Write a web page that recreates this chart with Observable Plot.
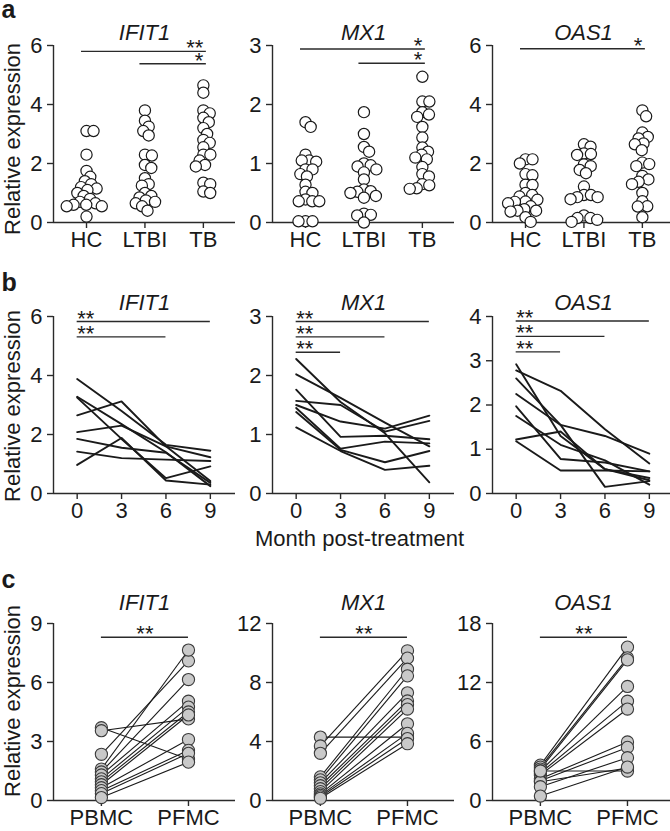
<!DOCTYPE html>
<html>
<head>
<meta charset="utf-8">
<script src="https://cdn.jsdelivr.net/npm/d3@7"></script>
<script src="https://cdn.jsdelivr.net/npm/@observablehq/plot@0.6"></script>
<style>
  html, body { margin: 0; padding: 0; background: #fff; overflow: hidden; }
  #root { position: relative; width: 670px; height: 831px; overflow: hidden; }
  #root svg { position: absolute; }
</style>
</head>
<body>
<div id="root"></div>
<script>
// ---------------- data ----------------
const genes = ["IFIT1", "MX1", "OAS1"];
const groupsA = ["HC", "LTBI", "TB"];
const groupsC = ["PBMC", "PFMC"];
const months = [0, 3, 6, 9];

// y axis ticks per row / gene
const yTicksA = [[0, 2, 4, 6], [0, 1, 2, 3], [0, 2, 4, 6]];
const yTicksB = [[0, 2, 4, 6], [0, 1, 2, 3], [0, 1, 2, 3, 4]];
const yTicksC = [[0, 3, 6, 9], [0, 4, 8, 12], [0, 6, 12, 18]];

// panel a: relative expression per group
const aIFIT1_HC   = [3.1, 3.1, 2.3, 1.75, 1.55, 1.4, 1.3, 1.2, 1.15, 1.1, 1.0, 0.9, 0.8, 0.7, 0.65, 0.6, 0.6, 0.55, 0.55, 0.2];
const aIFIT1_LTBI = [3.8, 3.45, 3.25, 3.1, 2.95, 2.3, 2.27, 1.95, 1.85, 1.5, 1.3, 1.25, 1.0, 0.9, 0.85, 0.75, 0.7, 0.65, 0.55, 0.4];
const aIFIT1_TB   = [4.65, 4.4, 3.8, 3.7, 3.55, 3.4, 3.2, 3.0, 2.8, 2.7, 2.55, 2.3, 2.3, 2.1, 1.95, 1.9, 1.35, 1.3, 1.05, 1.0];
const aMX1_HC     = [1.7, 1.62, 1.15, 1.05, 1.05, 1.03, 0.9, 0.9, 0.82, 0.78, 0.64, 0.52, 0.5, 0.39, 0.36, 0.36, 0.36, 0.02, 0.02, 0.02];
const aMX1_LTBI   = [1.87, 1.5, 1.28, 1.2, 1.0, 0.97, 0.95, 0.9, 0.85, 0.73, 0.56, 0.53, 0.52, 0.5, 0.45, 0.42, 0.15, 0.13, 0.12, 0.0];
const aMX1_TB     = [2.47, 2.05, 2.05, 1.87, 1.83, 1.79, 1.62, 1.44, 1.27, 1.2, 1.15, 1.1, 1.07, 0.94, 0.82, 0.78, 0.65, 0.63, 0.58, 0.57];
const aOAS1_HC    = [2.14, 2.14, 2.0, 1.64, 1.6, 1.28, 1.27, 1.0, 0.93, 0.88, 0.77, 0.71, 0.7, 0.65, 0.55, 0.45, 0.4, 0.4, 0.37, 0.18, 0.02];
const aOAS1_LTBI  = [2.65, 2.57, 2.34, 2.32, 2.29, 1.97, 1.91, 1.78, 1.67, 1.22, 0.93, 0.93, 0.86, 0.86, 0.79, 0.24, 0.15, 0.15, 0.09, 0.02];
const aOAS1_TB    = [3.8, 3.6, 3.05, 2.9, 2.85, 2.68, 2.65, 2.45, 2.03, 1.98, 1.91, 1.58, 1.46, 1.38, 1.3, 1.0, 0.72, 0.55, 0.54, 0.18];

// panel a significance bars
const sigA_IFIT1 = [{from: "HC", to: "TB", y: 5.80, label: "**"}, {from: "LTBI", to: "TB", y: 5.38, label: "*"}];
const sigA_MX1   = [{from: "HC", to: "TB", y: 2.94, label: "*"}, {from: "LTBI", to: "TB", y: 2.70, label: "*"}];
const sigA_OAS1  = [{from: "HC", to: "TB", y: 5.89, label: "*"}];

// panel b: each patient's values at months 0, 3, 6, 9
const bIFIT1 = [
  [3.88, 2.80, 1.65, 1.45],
  [3.28, 2.35, 1.40, 0.25],
  [3.25, 1.85, 0.52, 0.92],
  [2.65, 3.12, 1.60, 1.23],
  [2.08, 2.30, 1.60, 0.42],
  [1.85, 1.55, 1.38, 0.36],
  [1.42, 1.20, 1.15, 1.10],
  [0.97, 1.88, 0.44, 0.30]
];
const bMX1 = [
  [2.28, 1.55, 1.02, 0.19],
  [2.02, 1.62, 1.20, 0.80],
  [1.76, 0.96, 0.98, 0.92],
  [1.57, 1.50, 1.05, 1.23],
  [1.50, 1.22, 1.10, 1.32],
  [1.45, 0.76, 0.88, 0.85],
  [1.38, 0.74, 0.53, 0.72],
  [1.12, 0.72, 0.40, 0.47]
];
const bOAS1 = [
  [2.92, 1.30, 0.55, 0.30],
  [2.78, 2.32, 1.45, 0.68],
  [2.60, 1.55, 0.15, 0.28],
  [2.25, 1.55, 1.30, 0.90],
  [1.97, 0.78, 0.70, 0.50],
  [1.75, 1.10, 0.75, 0.20],
  [1.22, 1.40, 0.55, 0.35],
  [1.18, 0.52, 0.52, 0.50]
];
const sigB_IFIT1 = [{to: 9, y: 5.83, label: "**"}, {to: 6, y: 5.31, label: "**"}];
const sigB_MX1   = [{to: 9, y: 2.915, label: "**"}, {to: 6, y: 2.655, label: "**"}, {to: 3, y: 2.395, label: "**"}];
const sigB_OAS1  = [{to: 9, y: 3.90, label: "**"}, {to: 6, y: 3.55, label: "**"}, {to: 3, y: 3.20, label: "**"}];

// panel c: paired PBMC -> PFMC
const cIFIT1_PBMC = [3.7, 3.55, 2.35, 1.6, 1.45, 1.3, 1.1, 0.95, 0.8, 0.65, 0.5, 0.35, 0.15];
const cIFIT1_PFMC = [2.1, 4.15, 7.1, 7.65, 6.15, 5.05, 4.75, 4.5, 4.35, 3.1, 2.55, 2.4, 1.95];
const cMX1_PBMC   = [4.3, 3.7, 3.2, 1.6, 1.4, 1.2, 1.0, 0.8, 0.6, 0.45, 0.35, 0.25, 0.15];
const cMX1_PFMC   = [4.3, 10.15, 9.65, 8.9, 8.45, 7.3, 6.75, 6.5, 6.2, 5.2, 4.55, 4.2, 3.85];
const cOAS1_PBMC  = [3.6, 3.4, 3.2, 3.0, 2.8, 2.6, 2.2, 2.0, 1.9, 3.0, 1.4, 0.45];
const cOAS1_PFMC  = [15.6, 14.5, 14.3, 11.6, 10.1, 9.3, 5.95, 5.4, 3.3, 3.0, 4.35, 3.4];
const sigC = [{y: 8.30, label: "**"}, {y: 11.07, label: "**"}, {y: 16.6, label: "**"}];

// ---------------- layout ----------------
const FONT = '"Liberation Sans", Arial, Helvetica, sans-serif';
const INK = "#1a1a1a";
const AX = "#2a2a2a";
const ML = 53, MT = 45, W = 182, H = 177, MB = 45;
const colLeft = [0, 219, 439];
const rowTop = [0, 271, 578];
const root = document.getElementById("root");

function place(svg, left, top) {
  svg.style.left = left + "px";
  svg.style.top = top + "px";
  root.appendChild(svg);
}

function base(x, y, marks) {
  return Plot.plot({
    width: ML + W, height: MT + H + MB,
    marginLeft: ML, marginRight: 0, marginTop: MT, marginBottom: MB,
    x, y, marks,
    style: {background: "transparent", overflow: "visible", fontFamily: FONT, fontSize: "22px", color: INK}
  });
}

function frameMarks(xDomain, yMax, xTicks, xFmt, yTicks) {
  return [
    Plot.ruleY([0], {stroke: AX, strokeWidth: 1.4}),
    Plot.ruleX([xDomain[0]], {y1: 0, y2: yMax, stroke: AX, strokeWidth: 1.4}),
    Plot.axisX({ticks: xTicks, tickFormat: xFmt, tickSize: 6, tickPadding: 3, strokeWidth: 1.4, stroke: AX, label: null}),
    Plot.axisY({ticks: yTicks, tickFormat: d => String(d), tickSize: 6, tickPadding: 5, strokeWidth: 1.4, stroke: AX, label: null})
  ];
}

function decor(gene, titleDy, yLabel, yLabelDy, letter, letterDy) {
  const m = [Plot.text([gene], {text: d => d, frameAnchor: "top", textAnchor: "middle", lineAnchor: "bottom", dy: titleDy, fontStyle: "italic"})];
  if (yLabel) m.push(Plot.text(["Relative expression"], {text: d => d, frameAnchor: "left", textAnchor: "middle", lineAnchor: "middle", rotate: -90, dx: -41, dy: yLabelDy}));
  if (letter) m.push(Plot.text([letter], {text: d => d, frameAnchor: "top-left", textAnchor: "start", lineAnchor: "bottom", dx: -52, dy: letterDy, fontWeight: "bold", fontSize: 25}));
  return m;
}

// dodge-style beeswarm: pixel offsets so circles overlap only partially
function swarm(vals, pxY, minD) {
  const order = vals.map((v, i) => i).sort((a, b) => vals[b] - vals[a]);
  const placed = [];
  const off = new Array(vals.length);
  for (const i of order) {
    const y = vals[i] * pxY;
    const cands = [0];
    for (const p of placed) {
      const dy = Math.abs(p.y - y);
      if (dy < minD) {
        const dx = Math.sqrt(minD * minD - dy * dy);
        cands.push(p.x + dx, p.x - dx);
      }
    }
    cands.sort((a, b) => Math.abs(a) - Math.abs(b));
    let best = 0;
    for (const c of cands) {
      if (placed.every(p => (p.x - c) ** 2 + (p.y - y) ** 2 >= minD * minD - 1e-6)) { best = c; break; }
    }
    off[i] = best;
    placed.push({x: best, y});
  }
  return off;
}

// ---------------- panel a ----------------
function panelA(gi, groups, sig) {
  const yMax = yTicksA[gi][yTicksA[gi].length - 1];
  const xDomain = [-0.565, 2.55];
  const pxX = W / (xDomain[1] - xDomain[0]);
  const pxY = H / yMax;
  const pts = [];
  groups.forEach((vals, k) => {
    const off = swarm(vals, pxY, 7);
    vals.forEach((v, i) => pts.push({x: k + off[i] / pxX, y: v}));
  });
  return base(
    {domain: xDomain}, {domain: [0, yMax]},
    [
      ...frameMarks(xDomain, yMax, [0, 1, 2], i => groupsA[i], yTicksA[gi]),
      Plot.dot(pts, {x: "x", y: "y", r: 5.6, stroke: INK, strokeWidth: 1.2, fill: "white"}),
      Plot.ruleY(sig, {x1: d => groupsA.indexOf(d.from), x2: d => groupsA.indexOf(d.to), y: "y", stroke: AX, strokeWidth: 1.4, insetLeft: -5, insetRight: -3}),
      Plot.text(sig, {x: d => groupsA.indexOf(d.to), y: "y", text: "label", textAnchor: "end", lineAnchor: "bottom", dy: 4}),
      ...decor(genes[gi], -6, gi === 0, 5, gi === 0 ? "a" : null, -28)
    ]
  );
}

// ---------------- panel b ----------------
function panelB(gi, series, sig) {
  const yMax = yTicksB[gi][yTicksB[gi].length - 1];
  const xDomain = [-1.6, 10.7];
  const rows = series.flatMap((vals, p) => vals.map((v, j) => ({p, m: months[j], v})));
  const marks = [
    ...frameMarks(xDomain, yMax, months, d => String(d), yTicksB[gi]),
    Plot.line(rows, {x: "m", y: "v", z: "p", stroke: INK, strokeWidth: 1.9}),
    Plot.ruleY(sig, {x1: () => months[0], x2: "to", y: "y", stroke: AX, strokeWidth: 1.4}),
    Plot.text(sig, {x: () => months[0], y: "y", text: "label", textAnchor: "start", lineAnchor: "bottom", dy: 4}),
    ...decor(genes[gi], -7, gi === 0, 1, gi === 0 ? "b" : null, -26)
  ];
  if (gi === 1) marks.push(Plot.text(["Month post-treatment"], {text: d => d, frameAnchor: "bottom", textAnchor: "middle", lineAnchor: "bottom", dy: 52, dx: -4}));
  return base({domain: xDomain}, {domain: [0, yMax]}, marks);
}

// ---------------- panel c ----------------
function panelC(gi, pb, pf, sig) {
  const yMax = yTicksC[gi][yTicksC[gi].length - 1];
  const xDomain = [-0.55, 1.54];
  const pairs = pb.map((v, i) => ({a: v, b: pf[i]}));
  return base(
    {domain: xDomain}, {domain: [0, yMax]},
    [
      ...frameMarks(xDomain, yMax, [0, 1], i => groupsC[i], yTicksC[gi]),
      Plot.link(pairs, {x1: () => 0, y1: "a", x2: () => 1, y2: "b", stroke: INK, strokeWidth: 1.1}),
      Plot.dot(pb, {x: () => 0, y: d => d, r: 6.1, fill: "#c9c9c9", stroke: "#3a3a3a", strokeWidth: 1.1}),
      Plot.dot(pf, {x: () => 1, y: d => d, r: 6.1, fill: "#c9c9c9", stroke: "#3a3a3a", strokeWidth: 1.1}),
      Plot.ruleY([sig], {x1: () => 0, x2: () => 1, y: "y", stroke: AX, strokeWidth: 1.4}),
      Plot.text([sig], {x: () => 0.5, y: "y", text: "label", textAnchor: "middle", lineAnchor: "bottom", dy: 4}),
      ...decor(genes[gi], -14, gi === 0, -11, gi === 0 ? "c" : null, -36)
    ]
  );
}

const aGroups = [
  [aIFIT1_HC, aIFIT1_LTBI, aIFIT1_TB],
  [aMX1_HC, aMX1_LTBI, aMX1_TB],
  [aOAS1_HC, aOAS1_LTBI, aOAS1_TB]
];
const aSigs = [sigA_IFIT1, sigA_MX1, sigA_OAS1];
const bSeries = [bIFIT1, bMX1, bOAS1];
const bSigs = [sigB_IFIT1, sigB_MX1, sigB_OAS1];
const cPB = [cIFIT1_PBMC, cMX1_PBMC, cOAS1_PBMC];
const cPF = [cIFIT1_PFMC, cMX1_PFMC, cOAS1_PFMC];

for (let gi = 0; gi < 3; gi++) {
  place(panelA(gi, aGroups[gi], aSigs[gi]), colLeft[gi], rowTop[0]);
  place(panelB(gi, bSeries[gi], bSigs[gi]), colLeft[gi], rowTop[1]);
  place(panelC(gi, cPB[gi], cPF[gi], sigC[gi]), colLeft[gi], rowTop[2]);
}
</script>
</body>
</html>
